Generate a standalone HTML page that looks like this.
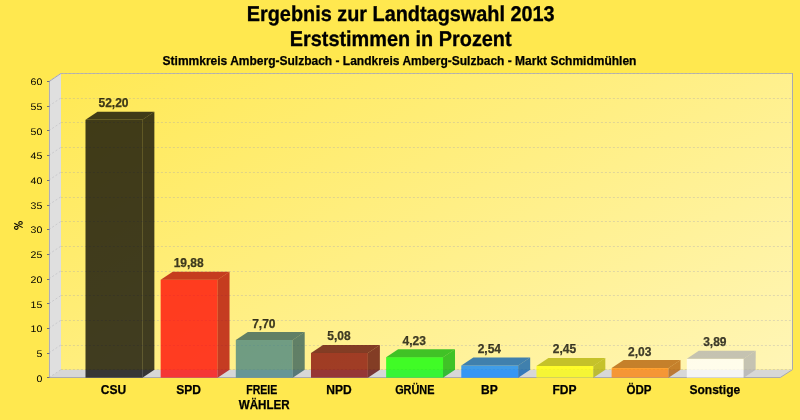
<!DOCTYPE html><html><head><meta charset="utf-8"><style>html,body{margin:0;padding:0;width:800px;height:420px;overflow:hidden;background:#FFE84F}</style></head><body><svg width="800" height="420" viewBox="0 0 800 420" style="position:absolute;left:0;top:0;will-change:transform">
<defs><linearGradient id="wg" gradientUnits="userSpaceOnUse" x1="52" y1="45.5" x2="592" y2="1005"><stop offset="0" stop-color="#FFE84F"/><stop offset="1" stop-color="#FFFFFF"/></linearGradient></defs>
<rect width="800" height="420" fill="#FFE84F"/>
<text x="400.7" y="20.8" text-anchor="middle" font-family="Liberation Sans" font-weight="bold" font-size="20" stroke="#000" stroke-width="0.3" transform="translate(400.7 20.8) scale(0.993 1.07) translate(-400.7 -20.8)" text-rendering="geometricPrecision">Ergebnis zur Landtagswahl 2013</text>
<text x="400.7" y="45.9" text-anchor="middle" font-family="Liberation Sans" font-weight="bold" font-size="20" stroke="#000" stroke-width="0.3" transform="translate(400.7 45.9) scale(0.993 1.07) translate(-400.7 -45.9)" text-rendering="geometricPrecision">Erststimmen in Prozent</text>
<text x="399.5" y="64.8" text-anchor="middle" font-family="Liberation Sans" font-weight="bold" font-size="12" stroke="#000" stroke-width="0.25">Stimmkreis Amberg-Sulzbach - Landkreis Amberg-Sulzbach - Markt Schmidmühlen</text>
<rect x="60.93" y="73.27" width="731.30" height="296.38" fill="url(#wg)"/>
<polygon points="48.93,81.27 60.93,73.27 60.93,369.65 792.23,369.65 780.23,377.65 48.93,377.65" fill="#D7D7D7"/>
<polygon points="48.93,81.27 60.93,73.27 60.93,369.65 48.93,377.65" fill="#DFDFDF"/>
<polyline points="49.5,377.5 49.5,81.27 60.93,73.5" fill="none" stroke="#ADADB8" stroke-width="1" stroke-linejoin="miter"/>
<line x1="60.93" y1="73.5" x2="792.5" y2="73.5" stroke="#BDB9A8" stroke-width="1"/>
<polyline points="792.5,73.0 792.5,369.65 780.23,377.5 49.0,377.5" fill="none" stroke="#A9A9B0" stroke-width="1" stroke-linejoin="miter"/>
<line x1="60.93" y1="369.5" x2="792.23" y2="369.5" stroke="#A0A0B4" stroke-opacity="0.32" stroke-width="1" stroke-dasharray="2 2"/>
<line x1="48.93" y1="377.65" x2="60.93" y2="369.65" stroke="#A0A0A8" stroke-opacity="0.5" stroke-width="0.7" stroke-dasharray="2 2"/>
<line x1="60.93" y1="345.5" x2="792.23" y2="345.5" stroke="#A0A0B4" stroke-opacity="0.32" stroke-width="1" stroke-dasharray="2 2"/>
<line x1="48.93" y1="352.95" x2="60.93" y2="344.95" stroke="#A0A0A8" stroke-opacity="0.5" stroke-width="0.7" stroke-dasharray="2 2"/>
<line x1="60.93" y1="320.5" x2="792.23" y2="320.5" stroke="#A0A0B4" stroke-opacity="0.32" stroke-width="1" stroke-dasharray="2 2"/>
<line x1="48.93" y1="328.25" x2="60.93" y2="320.25" stroke="#A0A0A8" stroke-opacity="0.5" stroke-width="0.7" stroke-dasharray="2 2"/>
<line x1="60.93" y1="295.5" x2="792.23" y2="295.5" stroke="#A0A0B4" stroke-opacity="0.32" stroke-width="1" stroke-dasharray="2 2"/>
<line x1="48.93" y1="303.56" x2="60.93" y2="295.56" stroke="#A0A0A8" stroke-opacity="0.5" stroke-width="0.7" stroke-dasharray="2 2"/>
<line x1="60.93" y1="271.5" x2="792.23" y2="271.5" stroke="#A0A0B4" stroke-opacity="0.32" stroke-width="1" stroke-dasharray="2 2"/>
<line x1="48.93" y1="278.86" x2="60.93" y2="270.86" stroke="#A0A0A8" stroke-opacity="0.5" stroke-width="0.7" stroke-dasharray="2 2"/>
<line x1="60.93" y1="246.5" x2="792.23" y2="246.5" stroke="#A0A0B4" stroke-opacity="0.32" stroke-width="1" stroke-dasharray="2 2"/>
<line x1="48.93" y1="254.16" x2="60.93" y2="246.16" stroke="#A0A0A8" stroke-opacity="0.5" stroke-width="0.7" stroke-dasharray="2 2"/>
<line x1="60.93" y1="221.5" x2="792.23" y2="221.5" stroke="#A0A0B4" stroke-opacity="0.32" stroke-width="1" stroke-dasharray="2 2"/>
<line x1="48.93" y1="229.46" x2="60.93" y2="221.46" stroke="#A0A0A8" stroke-opacity="0.5" stroke-width="0.7" stroke-dasharray="2 2"/>
<line x1="60.93" y1="197.5" x2="792.23" y2="197.5" stroke="#A0A0B4" stroke-opacity="0.32" stroke-width="1" stroke-dasharray="2 2"/>
<line x1="48.93" y1="204.76" x2="60.93" y2="196.76" stroke="#A0A0A8" stroke-opacity="0.5" stroke-width="0.7" stroke-dasharray="2 2"/>
<line x1="60.93" y1="172.5" x2="792.23" y2="172.5" stroke="#A0A0B4" stroke-opacity="0.32" stroke-width="1" stroke-dasharray="2 2"/>
<line x1="48.93" y1="180.07" x2="60.93" y2="172.07" stroke="#A0A0A8" stroke-opacity="0.5" stroke-width="0.7" stroke-dasharray="2 2"/>
<line x1="60.93" y1="147.5" x2="792.23" y2="147.5" stroke="#A0A0B4" stroke-opacity="0.32" stroke-width="1" stroke-dasharray="2 2"/>
<line x1="48.93" y1="155.37" x2="60.93" y2="147.37" stroke="#A0A0A8" stroke-opacity="0.5" stroke-width="0.7" stroke-dasharray="2 2"/>
<line x1="60.93" y1="122.5" x2="792.23" y2="122.5" stroke="#A0A0B4" stroke-opacity="0.32" stroke-width="1" stroke-dasharray="2 2"/>
<line x1="48.93" y1="130.67" x2="60.93" y2="122.67" stroke="#A0A0A8" stroke-opacity="0.5" stroke-width="0.7" stroke-dasharray="2 2"/>
<line x1="60.93" y1="98.5" x2="792.23" y2="98.5" stroke="#A0A0B4" stroke-opacity="0.32" stroke-width="1" stroke-dasharray="2 2"/>
<line x1="48.93" y1="105.97" x2="60.93" y2="97.97" stroke="#A0A0A8" stroke-opacity="0.5" stroke-width="0.7" stroke-dasharray="2 2"/>
<line x1="60.93" y1="73.5" x2="792.23" y2="73.5" stroke="#A0A0B4" stroke-opacity="0.32" stroke-width="1" stroke-dasharray="2 2"/>
<line x1="48.93" y1="81.27" x2="60.93" y2="73.27" stroke="#A0A0A8" stroke-opacity="0.5" stroke-width="0.7" stroke-dasharray="2 2"/>
<line x1="47" y1="377.5" x2="49.5" y2="377.5" stroke="#707078" stroke-width="1"/>
<text x="42.3" y="382.00" transform="translate(42.3 382.00) scale(1.1 1) translate(-42.3 -382.00)" text-anchor="end" font-family="Liberation Sans" font-size="9.6" text-rendering="geometricPrecision">0</text>
<line x1="47" y1="353.5" x2="49.5" y2="353.5" stroke="#707078" stroke-width="1"/>
<text x="42.3" y="357.00" transform="translate(42.3 357.00) scale(1.1 1) translate(-42.3 -357.00)" text-anchor="end" font-family="Liberation Sans" font-size="9.6" text-rendering="geometricPrecision">5</text>
<line x1="47" y1="328.5" x2="49.5" y2="328.5" stroke="#707078" stroke-width="1"/>
<text x="42.3" y="332.00" transform="translate(42.3 332.00) scale(1.1 1) translate(-42.3 -332.00)" text-anchor="end" font-family="Liberation Sans" font-size="9.6" text-rendering="geometricPrecision">10</text>
<line x1="47" y1="303.5" x2="49.5" y2="303.5" stroke="#707078" stroke-width="1"/>
<text x="42.3" y="308.00" transform="translate(42.3 308.00) scale(1.1 1) translate(-42.3 -308.00)" text-anchor="end" font-family="Liberation Sans" font-size="9.6" text-rendering="geometricPrecision">15</text>
<line x1="47" y1="279.5" x2="49.5" y2="279.5" stroke="#707078" stroke-width="1"/>
<text x="42.3" y="283.00" transform="translate(42.3 283.00) scale(1.1 1) translate(-42.3 -283.00)" text-anchor="end" font-family="Liberation Sans" font-size="9.6" text-rendering="geometricPrecision">20</text>
<line x1="47" y1="254.5" x2="49.5" y2="254.5" stroke="#707078" stroke-width="1"/>
<text x="42.3" y="258.00" transform="translate(42.3 258.00) scale(1.1 1) translate(-42.3 -258.00)" text-anchor="end" font-family="Liberation Sans" font-size="9.6" text-rendering="geometricPrecision">25</text>
<line x1="47" y1="229.5" x2="49.5" y2="229.5" stroke="#707078" stroke-width="1"/>
<text x="42.3" y="233.00" transform="translate(42.3 233.00) scale(1.1 1) translate(-42.3 -233.00)" text-anchor="end" font-family="Liberation Sans" font-size="9.6" text-rendering="geometricPrecision">30</text>
<line x1="47" y1="205.5" x2="49.5" y2="205.5" stroke="#707078" stroke-width="1"/>
<text x="42.3" y="209.00" transform="translate(42.3 209.00) scale(1.1 1) translate(-42.3 -209.00)" text-anchor="end" font-family="Liberation Sans" font-size="9.6" text-rendering="geometricPrecision">35</text>
<line x1="47" y1="180.5" x2="49.5" y2="180.5" stroke="#707078" stroke-width="1"/>
<text x="42.3" y="184.00" transform="translate(42.3 184.00) scale(1.1 1) translate(-42.3 -184.00)" text-anchor="end" font-family="Liberation Sans" font-size="9.6" text-rendering="geometricPrecision">40</text>
<line x1="47" y1="155.5" x2="49.5" y2="155.5" stroke="#707078" stroke-width="1"/>
<text x="42.3" y="159.00" transform="translate(42.3 159.00) scale(1.1 1) translate(-42.3 -159.00)" text-anchor="end" font-family="Liberation Sans" font-size="9.6" text-rendering="geometricPrecision">45</text>
<line x1="47" y1="130.5" x2="49.5" y2="130.5" stroke="#707078" stroke-width="1"/>
<text x="42.3" y="135.00" transform="translate(42.3 135.00) scale(1.1 1) translate(-42.3 -135.00)" text-anchor="end" font-family="Liberation Sans" font-size="9.6" text-rendering="geometricPrecision">50</text>
<line x1="47" y1="106.5" x2="49.5" y2="106.5" stroke="#707078" stroke-width="1"/>
<text x="42.3" y="110.00" transform="translate(42.3 110.00) scale(1.1 1) translate(-42.3 -110.00)" text-anchor="end" font-family="Liberation Sans" font-size="9.6" text-rendering="geometricPrecision">55</text>
<line x1="47" y1="81.5" x2="49.5" y2="81.5" stroke="#707078" stroke-width="1"/>
<text x="42.3" y="85.00" transform="translate(42.3 85.00) scale(1.1 1) translate(-42.3 -85.00)" text-anchor="end" font-family="Liberation Sans" font-size="9.6" text-rendering="geometricPrecision">60</text>
<g fill="none" stroke="#000" stroke-width="1.05"><ellipse cx="20.5" cy="222.9" rx="1.75" ry="1.45"/><ellipse cx="16.3" cy="227.8" rx="1.8" ry="1.55"/><line x1="14.3" y1="223.2" x2="22.7" y2="227.6"/></g>
<rect x="85.50" y="119.85" width="56.88" height="257.80" fill="#000000" fill-opacity="0.75"/>
<polygon points="85.50,119.85 97.50,111.85 154.37,111.85 142.37,119.85" fill="#000000" fill-opacity="0.75"/>
<polygon points="142.37,119.85 154.37,111.85 154.37,369.65 142.37,377.65" fill="#000000" fill-opacity="0.75"/>
<text x="113.53" y="107.35" text-anchor="middle" font-family="Liberation Sans" font-weight="bold" font-size="12" fill="#000" fill-opacity="0.75" stroke="#000" stroke-opacity="0.75" stroke-width="0.25">52,20</text>
<text x="113.53" y="393.7" text-anchor="middle" font-family="Liberation Sans" font-weight="bold" font-size="12" stroke="#000" stroke-width="0.25">CSU</text>
<rect x="160.66" y="279.75" width="56.88" height="97.90" fill="#FF0000" fill-opacity="0.75"/>
<polygon points="160.66,279.75 172.66,271.75 229.54,271.75 217.54,279.75" fill="#B20000" fill-opacity="0.75"/>
<polygon points="217.54,279.75 229.54,271.75 229.54,369.65 217.54,377.65" fill="#B20000" fill-opacity="0.75"/>
<text x="188.70" y="267.25" text-anchor="middle" font-family="Liberation Sans" font-weight="bold" font-size="12" fill="#000" fill-opacity="0.75" stroke="#000" stroke-opacity="0.75" stroke-width="0.25">19,88</text>
<text x="188.70" y="393.7" text-anchor="middle" font-family="Liberation Sans" font-weight="bold" font-size="12" stroke="#000" stroke-width="0.25">SPD</text>
<rect x="235.82" y="340.01" width="56.88" height="37.64" fill="#408080" fill-opacity="0.75"/>
<polygon points="235.82,340.01 247.82,332.01 304.70,332.01 292.70,340.01" fill="#2C5959" fill-opacity="0.75"/>
<polygon points="292.70,340.01 304.70,332.01 304.70,369.65 292.70,377.65" fill="#2C5959" fill-opacity="0.75"/>
<text x="263.86" y="327.51" text-anchor="middle" font-family="Liberation Sans" font-weight="bold" font-size="12" fill="#000" fill-opacity="0.75" stroke="#000" stroke-opacity="0.75" stroke-width="0.25">7,70</text>
<text x="246.3" y="393.7" font-family="Liberation Sans" font-weight="bold" font-size="12" stroke="#000" stroke-width="0.25" textLength="31" lengthAdjust="spacingAndGlyphs">FREIE</text>
<text x="264.26" y="408.70" text-anchor="middle" font-family="Liberation Sans" font-weight="bold" font-size="12" stroke="#000" stroke-width="0.25" textLength="51" lengthAdjust="spacingAndGlyphs">WÄHLER</text>
<rect x="310.98" y="352.97" width="56.88" height="24.68" fill="#800000" fill-opacity="0.75"/>
<polygon points="310.98,352.97 322.98,344.97 379.86,344.97 367.86,352.97" fill="#590000" fill-opacity="0.75"/>
<polygon points="367.86,352.97 379.86,344.97 379.86,369.65 367.86,377.65" fill="#590000" fill-opacity="0.75"/>
<text x="339.02" y="340.47" text-anchor="middle" font-family="Liberation Sans" font-weight="bold" font-size="12" fill="#000" fill-opacity="0.75" stroke="#000" stroke-opacity="0.75" stroke-width="0.25">5,08</text>
<text x="339.02" y="393.7" text-anchor="middle" font-family="Liberation Sans" font-weight="bold" font-size="12" stroke="#000" stroke-width="0.25">NPD</text>
<rect x="386.14" y="357.17" width="56.88" height="20.48" fill="#00FF00" fill-opacity="0.75"/>
<polygon points="386.14,357.17 398.14,349.17 455.02,349.17 443.02,357.17" fill="#00B200" fill-opacity="0.75"/>
<polygon points="443.02,357.17 455.02,349.17 455.02,369.65 443.02,377.65" fill="#00B200" fill-opacity="0.75"/>
<text x="414.18" y="344.67" text-anchor="middle" font-family="Liberation Sans" font-weight="bold" font-size="12" fill="#000" fill-opacity="0.75" stroke="#000" stroke-opacity="0.75" stroke-width="0.25">4,23</text>
<text x="414.78" y="393.7" text-anchor="middle" font-family="Liberation Sans" font-weight="bold" font-size="12" stroke="#000" stroke-width="0.25" textLength="39.3" lengthAdjust="spacingAndGlyphs">GRÜNE</text>
<rect x="461.30" y="365.53" width="56.88" height="12.12" fill="#0080FF" fill-opacity="0.75"/>
<polygon points="461.30,365.53 473.30,357.53 530.18,357.53 518.18,365.53" fill="#0059B2" fill-opacity="0.75"/>
<polygon points="518.18,365.53 530.18,357.53 530.18,369.65 518.18,377.65" fill="#0059B2" fill-opacity="0.75"/>
<text x="489.34" y="353.03" text-anchor="middle" font-family="Liberation Sans" font-weight="bold" font-size="12" fill="#000" fill-opacity="0.75" stroke="#000" stroke-opacity="0.75" stroke-width="0.25">2,54</text>
<text x="489.34" y="393.7" text-anchor="middle" font-family="Liberation Sans" font-weight="bold" font-size="12" stroke="#000" stroke-width="0.25">BP</text>
<rect x="536.46" y="365.98" width="56.88" height="11.67" fill="#FFFF00" fill-opacity="0.75"/>
<polygon points="536.46,365.98 548.46,357.98 605.34,357.98 593.34,365.98" fill="#B2B200" fill-opacity="0.75"/>
<polygon points="593.34,365.98 605.34,357.98 605.34,369.65 593.34,377.65" fill="#B2B200" fill-opacity="0.75"/>
<text x="564.50" y="353.48" text-anchor="middle" font-family="Liberation Sans" font-weight="bold" font-size="12" fill="#000" fill-opacity="0.75" stroke="#000" stroke-opacity="0.75" stroke-width="0.25">2,45</text>
<text x="564.50" y="393.7" text-anchor="middle" font-family="Liberation Sans" font-weight="bold" font-size="12" stroke="#000" stroke-width="0.25">FDP</text>
<rect x="611.62" y="368.06" width="56.88" height="9.59" fill="#FF8000" fill-opacity="0.75"/>
<polygon points="611.62,368.06 623.62,360.06 680.50,360.06 668.50,368.06" fill="#B25900" fill-opacity="0.75"/>
<polygon points="668.50,368.06 680.50,360.06 680.50,369.65 668.50,377.65" fill="#B25900" fill-opacity="0.75"/>
<text x="639.66" y="355.56" text-anchor="middle" font-family="Liberation Sans" font-weight="bold" font-size="12" fill="#000" fill-opacity="0.75" stroke="#000" stroke-opacity="0.75" stroke-width="0.25">2,03</text>
<text x="639.06" y="393.7" text-anchor="middle" font-family="Liberation Sans" font-weight="bold" font-size="12" stroke="#000" stroke-width="0.25" textLength="25" lengthAdjust="spacingAndGlyphs">ÖDP</text>
<rect x="686.79" y="358.85" width="56.88" height="18.80" fill="#FFFFFF" fill-opacity="0.75"/>
<polygon points="686.79,358.85 698.79,350.85 755.66,350.85 743.66,358.85" fill="#B2B2B2" fill-opacity="0.75"/>
<polygon points="743.66,358.85 755.66,350.85 755.66,369.65 743.66,377.65" fill="#B2B2B2" fill-opacity="0.75"/>
<text x="714.83" y="346.35" text-anchor="middle" font-family="Liberation Sans" font-weight="bold" font-size="12" fill="#000" fill-opacity="0.75" stroke="#000" stroke-opacity="0.75" stroke-width="0.25">3,89</text>
<text x="714.83" y="393.7" text-anchor="middle" font-family="Liberation Sans" font-weight="bold" font-size="12" stroke="#000" stroke-width="0.25">Sonstige</text>
</svg></body></html>
